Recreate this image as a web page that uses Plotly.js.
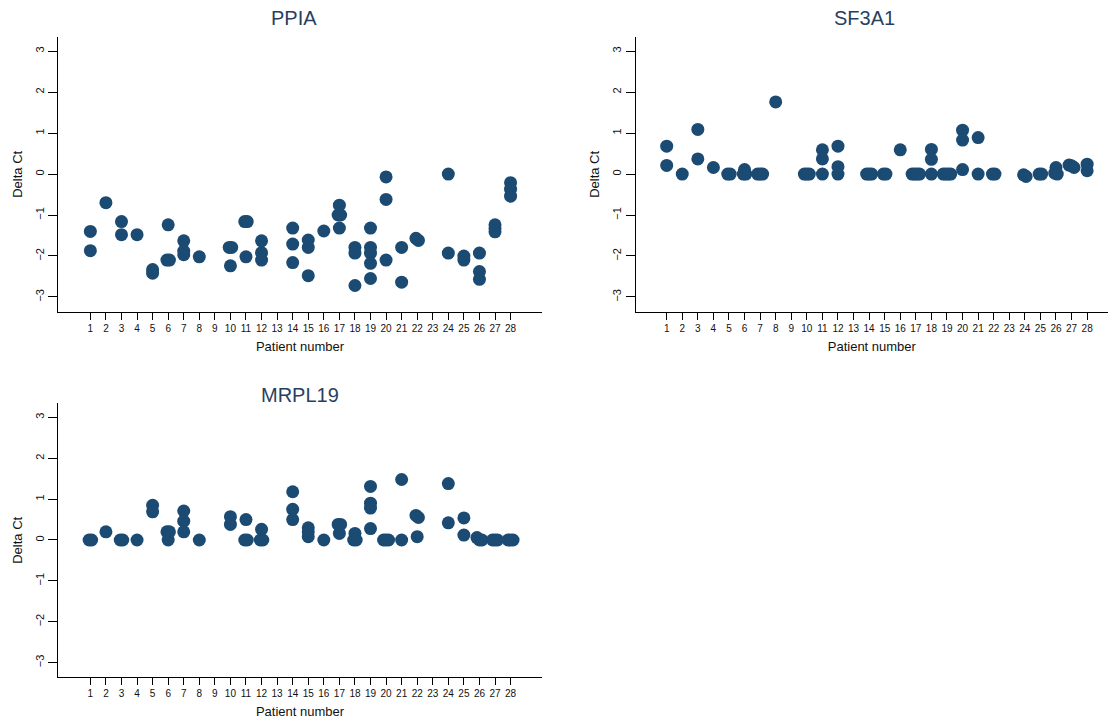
<!DOCTYPE html>
<html>
<head>
<meta charset="utf-8">
<script src="https://cdn.plot.ly/plotly-3.0.1.min.js"></script>
<style>
  html, body { margin: 0; padding: 0; background: #fff; }
  #chart { width: 1108px; height: 719px; }
</style>
</head>
<body>
<div id="chart"></div>
<script>
// Patient numbers (x tick labels)
const patients = [1,2,3,4,5,6,7,8,9,10,11,12,13,14,15,16,17,18,19,20,21,22,23,24,25,26,27,28];
const yTicks = [-3,-2,-1,0,1,2,3];
const geneNames = ["PPIA", "SF3A1", "MRPL19"];

// Delta Ct values per patient (index 0 = patient 1)
const ppia = [
  [-1.40,-1.87], [-0.70], [-1.16,-1.48], [-1.48], [-2.33,-2.42],
  [-1.24,-2.10,-2.10], [-1.63,-1.88,-1.97], [-2.02], [],
  [-1.79,-1.79,-2.24], [-1.16,-1.16,-2.02], [-1.63,-1.92,-2.10], [],
  [-1.32,-1.71,-2.16], [-1.61,-1.79,-2.48], [-1.39], [-0.76,-1.00,-1.00,-1.32],
  [-1.79,-1.93,-2.72], [-1.32,-1.79,-1.93,-2.18,-2.55], [-0.07,-0.62,-2.10],
  [-1.79,-2.64], [-1.57,-1.62], [], [0.00,-1.93], [-2.00,-2.10],
  [-1.93,-2.38,-2.57], [-1.24,-1.33,-1.41], [-0.21,-0.37,-0.54]
];
const sf3a1 = [
  [0.68,0.21], [0], [1.09,0.37], [0.16], [0,0],
  [0.11,0,0], [0,0,0], [1.76], [],
  [0,0,0], [0.59,0.37,0], [0.68,0.18,0], [],
  [0,0,0], [0,0], [0.59], [0,0,0,0],
  [0.60,0.36,0], [0,0,0,0], [1.07,0.83,0.11],
  [0.89,0], [0,0], [], [-0.02,-0.06], [0,0],
  [0.16,0.02,0], [0.22,0.20,0.16], [0.24,0.08]
];
const mrpl19 = [
  [0,0], [0.20], [0,0], [0], [0.85,0.69],
  [0.20,0.20,0], [0.71,0.46,0.20], [0], [],
  [0.57,0.38], [0.50,0,0], [0.26,0,0], [],
  [1.18,0.75,0.50], [0.30,0.20,0.08], [0], [0.38,0.38,0.16],
  [0.16,0,0], [1.31,0.90,0.78,0.28], [0,0,0],
  [1.48,0], [0.60,0.55,0.08], [], [1.38,0.42], [0.54,0.12],
  [0.06,0,0], [0,0,0], [0,0,0]
];

const markerColor = '#1b4a72';

// Spread near-identical values horizontally (simple beeswarm-like layout)
function layoutPoints(perPatient) {
  const xs = [], ys = [];
  perPatient.forEach((vals, i) => {
    const p = patients[i];
    const sorted = vals.slice().sort((a, b) => b - a);
    let groups = [];
    sorted.forEach(v => {
      const g = groups[groups.length - 1];
      if (g && Math.abs(g[g.length - 1] - v) < 0.07) g.push(v); else groups.push([v]);
    });
    groups.forEach(g => {
      const k = g.length;
      g.forEach((v, j) => {
        xs.push(p + (j - (k - 1) / 2) * 0.16);
        ys.push(v);
      });
    });
  });
  return {xs, ys};
}

const datasets = [ppia, sf3a1, mrpl19];
const traces = datasets.map((d, i) => {
  const pts = layoutPoints(d);
  return {
    x: pts.xs, y: pts.ys,
    type: 'scatter', mode: 'markers',
    xaxis: i === 0 ? 'x' : 'x' + (i + 1),
    yaxis: i === 0 ? 'y' : 'y' + (i + 1),
    marker: {color: markerColor, size: 13},
    hoverinfo: 'x+y', showlegend: false, name: geneNames[i]
  };
});

const W = 1108, H = 719;
const fx = px => px / W;
const fy = px => (H - px) / H;

function xAxis(dom, range, yref) {
  return {
    domain: dom, range: range, anchor: yref,
    tickmode: 'array', tickvals: patients, ticktext: patients.map(String),
    showline: true, linecolor: '#000', linewidth: 1.2,
    ticks: 'outside', ticklen: 7, tickwidth: 1.2, tickcolor: '#000',
    showgrid: false, zeroline: false,
    tickfont: {family: 'Liberation Sans, Arial, sans-serif', size: 10, color: '#111'},
    title: {text: 'Patient number', font: {family: 'Liberation Sans, Arial, sans-serif', size: 13, color: '#111'}, standoff: 9},
    fixedrange: true
  };
}
function yAxis(dom, xref) {
  return {
    domain: dom, range: [-3.36, 3.345], anchor: xref,
    tickmode: 'array', tickvals: yTicks, ticktext: yTicks.map(v => v < 0 ? '\u2212' + Math.abs(v) : String(v)),
    tickangle: -90,
    showline: true, linecolor: '#000', linewidth: 1.2,
    ticks: 'outside', ticklen: 9, tickwidth: 1.2, tickcolor: '#000',
    showgrid: false, zeroline: false,
    tickfont: {family: 'Liberation Sans, Arial, sans-serif', size: 11, color: '#111'},
    title: {text: 'Delta Ct', font: {family: 'Liberation Sans, Arial, sans-serif', size: 13, color: '#111'}, standoff: 8},
    fixedrange: true
  };
}

const topDom = [fy(311.7), fy(37)];
const botDom = [fy(677.3), fy(403.3)];
const leftDom = [fx(58.3), fx(541.7)];
const rightDom = [fx(635.7), 1];

const titleFont = {family: 'Liberation Sans, Arial, sans-serif', size: 20, color: '#2a3f5f'};

const layout = {
  width: W, height: H,
  margin: {l: 0, r: 0, t: 0, b: 0},
  paper_bgcolor: '#fff', plot_bgcolor: '#fff',
  showlegend: false,
  xaxis: xAxis(leftDom, [-1.06, 30.0], 'y'),
  yaxis: yAxis(topDom, 'x'),
  xaxis2: xAxis(rightDom, [-0.99, 29.34], 'y2'),
  yaxis2: yAxis(topDom, 'x2'),
  xaxis3: xAxis(leftDom, [-1.06, 30.0], 'y3'),
  yaxis3: yAxis(botDom, 'x3'),
  annotations: [
    {text: geneNames[0], x: fx(294), y: fy(18), xref: 'paper', yref: 'paper', xanchor: 'center', yanchor: 'middle', showarrow: false, font: titleFont},
    {text: geneNames[1], x: fx(864), y: fy(18), xref: 'paper', yref: 'paper', xanchor: 'center', yanchor: 'middle', showarrow: false, font: titleFont},
    {text: geneNames[2], x: fx(300), y: fy(395), xref: 'paper', yref: 'paper', xanchor: 'center', yanchor: 'middle', showarrow: false, font: titleFont}
  ]
};

Plotly.newPlot('chart', traces, layout, {displayModeBar: false, responsive: false});
</script>
</body>
</html>
